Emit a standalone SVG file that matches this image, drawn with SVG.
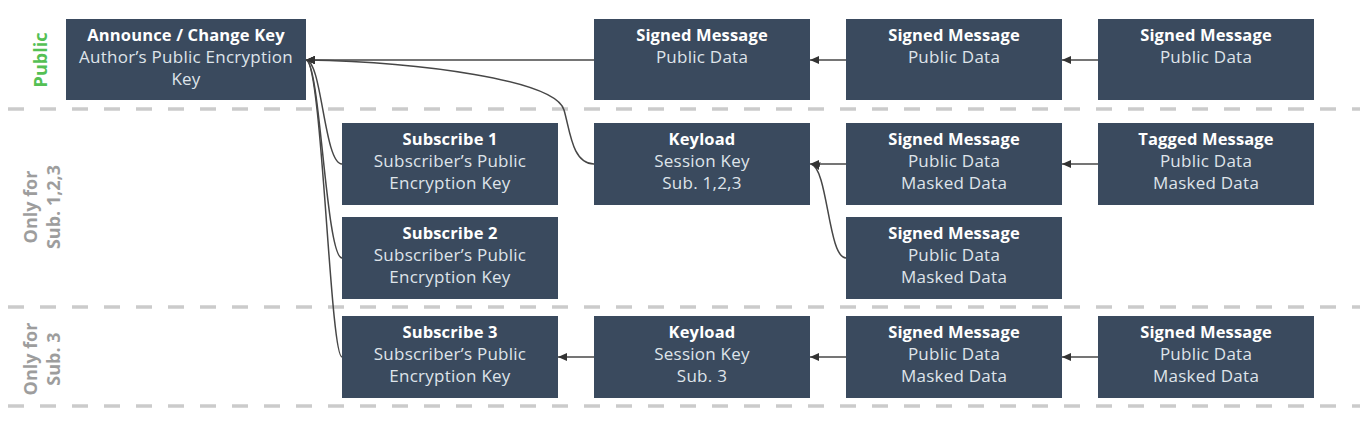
<svg xmlns="http://www.w3.org/2000/svg" width="1366" height="435" viewBox="0 0 1366 435">
<style>
.n rect{fill:#3a4a5e;}
.t{font-family:"Open Sans","Liberation Sans",sans-serif;font-size:16.5px;letter-spacing:0.15px;fill:#ffffff;font-weight:700;text-anchor:middle;}
.s{font-family:"Open Sans","Liberation Sans",sans-serif;font-size:17px;letter-spacing:0.25px;fill:#dfe4ea;font-weight:400;text-anchor:middle;}
.sep{stroke:#cbcbcb;stroke-width:3.5;stroke-dasharray:16 16;fill:none;}
.lbl{font-family:"Open Sans","Liberation Sans",sans-serif;font-size:18px;font-weight:700;text-anchor:middle;}
#connectors path{fill:none;stroke:#474747;stroke-width:1.5;}
</style>
<defs>
<marker id="arr" markerWidth="10" markerHeight="8" refX="9" refY="4" orient="auto" markerUnits="userSpaceOnUse">
<path d="M0,0 L9,4 L0,8 Z" fill="#333"/>
</marker>
</defs>
<rect width="1366" height="435" fill="#ffffff"/>
<g id="separators">
<line class="sep" x1="8" y1="109" x2="1360" y2="109"/>
<line class="sep" x1="8" y1="307" x2="1360" y2="307"/>
<line class="sep" x1="8" y1="406" x2="1360" y2="406"/>
</g>
<g id="lanes">
<text class="lbl" fill="#54c054" transform="translate(47,60) rotate(-90)">Public</text>
<text class="lbl" fill="#9d9d9d" transform="translate(37,207) rotate(-90)">Only for</text>
<text class="lbl" fill="#9d9d9d" transform="translate(60,207) rotate(-90)">Sub. 1,2,3</text>
<text class="lbl" fill="#9d9d9d" transform="translate(37,359) rotate(-90)">Only for</text>
<text class="lbl" fill="#9d9d9d" transform="translate(60,359) rotate(-90)">Sub. 3</text>
</g>
<g id="connectors">
<path d="M594,60 L306,60" marker-end="url(#arr)"/>
<path d="M594,164 C572,164 570,130 564,110 C555,80 420,62 306,60" marker-end="url(#arr)"/>
<path d="M342,164 C324,164 322,60 306,60" marker-end="url(#arr)"/>
<path d="M342,258 C326,258 320,60 306,60" marker-end="url(#arr)"/>
<path d="M342,357 C330,357 322,60 306,60" marker-end="url(#arr)"/>
<path d="M846,60 L810,60" marker-end="url(#arr)"/>
<path d="M1098,60 L1062,60" marker-end="url(#arr)"/>
<path d="M846,164 L810,164" marker-end="url(#arr)"/>
<path d="M1098,164 L1062,164" marker-end="url(#arr)"/>
<path d="M846,258 C828,258 828,168 811,164" marker-end="url(#arr)"/>
<path d="M594,357 L558,357" marker-end="url(#arr)"/>
<path d="M846,357 L810,357" marker-end="url(#arr)"/>
<path d="M1098,357 L1062,357" marker-end="url(#arr)"/>
</g>
<g id="announce" class="n"><rect x="66" y="19" width="240" height="81"/>
<text class="t" x="186" y="41">Announce / Change Key</text>
<text class="s" x="186" y="63">Author’s Public Encryption</text>
<text class="s" x="186" y="85">Key</text></g>
<g id="signed-p1" class="n"><rect x="594" y="19" width="216" height="81"/>
<text class="t" x="702" y="41">Signed Message</text>
<text class="s" x="702" y="63">Public Data</text></g>
<g id="signed-p2" class="n"><rect x="846" y="19" width="216" height="81"/>
<text class="t" x="954" y="41">Signed Message</text>
<text class="s" x="954" y="63">Public Data</text></g>
<g id="signed-p3" class="n"><rect x="1098" y="19" width="216" height="81"/>
<text class="t" x="1206" y="41">Signed Message</text>
<text class="s" x="1206" y="63">Public Data</text></g>
<g id="subscribe1" class="n"><rect x="342" y="123" width="216" height="82"/>
<text class="t" x="450" y="145">Subscribe 1</text>
<text class="s" x="450" y="167">Subscriber’s Public</text>
<text class="s" x="450" y="189">Encryption Key</text></g>
<g id="keyload123" class="n"><rect x="594" y="123" width="216" height="82"/>
<text class="t" x="702" y="145">Keyload</text>
<text class="s" x="702" y="167">Session Key</text>
<text class="s" x="702" y="189">Sub. 1,2,3</text></g>
<g id="signed-m1" class="n"><rect x="846" y="123" width="216" height="82"/>
<text class="t" x="954" y="145">Signed Message</text>
<text class="s" x="954" y="167">Public Data</text>
<text class="s" x="954" y="189">Masked Data</text></g>
<g id="tagged" class="n"><rect x="1098" y="123" width="216" height="82"/>
<text class="t" x="1206" y="145">Tagged Message</text>
<text class="s" x="1206" y="167">Public Data</text>
<text class="s" x="1206" y="189">Masked Data</text></g>
<g id="subscribe2" class="n"><rect x="342" y="217" width="216" height="82"/>
<text class="t" x="450" y="239">Subscribe 2</text>
<text class="s" x="450" y="261">Subscriber’s Public</text>
<text class="s" x="450" y="283">Encryption Key</text></g>
<g id="signed-m2" class="n"><rect x="846" y="217" width="216" height="82"/>
<text class="t" x="954" y="239">Signed Message</text>
<text class="s" x="954" y="261">Public Data</text>
<text class="s" x="954" y="283">Masked Data</text></g>
<g id="subscribe3" class="n"><rect x="342" y="316" width="216" height="82"/>
<text class="t" x="450" y="338">Subscribe 3</text>
<text class="s" x="450" y="360">Subscriber’s Public</text>
<text class="s" x="450" y="382">Encryption Key</text></g>
<g id="keyload3" class="n"><rect x="594" y="316" width="216" height="82"/>
<text class="t" x="702" y="338">Keyload</text>
<text class="s" x="702" y="360">Session Key</text>
<text class="s" x="702" y="382">Sub. 3</text></g>
<g id="signed-s1" class="n"><rect x="846" y="316" width="216" height="82"/>
<text class="t" x="954" y="338">Signed Message</text>
<text class="s" x="954" y="360">Public Data</text>
<text class="s" x="954" y="382">Masked Data</text></g>
<g id="signed-s2" class="n"><rect x="1098" y="316" width="216" height="82"/>
<text class="t" x="1206" y="338">Signed Message</text>
<text class="s" x="1206" y="360">Public Data</text>
<text class="s" x="1206" y="382">Masked Data</text></g>
</svg>
